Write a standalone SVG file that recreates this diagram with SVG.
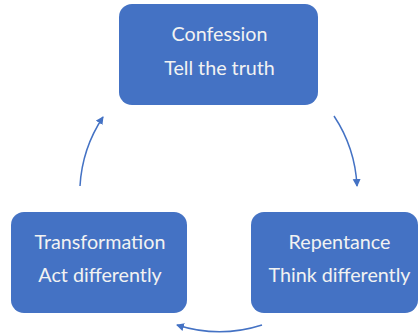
<svg xmlns="http://www.w3.org/2000/svg" width="419" height="334" viewBox="0 0 419 334">
  <style>
    .box { fill: #4472C4; }
    .label { font-family: Lato, "Noto Sans", sans-serif; font-size: 19.7px; fill: #F2F2F2; text-anchor: middle; }
    .arc { fill: none; stroke: #4472C4; stroke-width: 1.5; marker-end: url(#head); }
  </style>
  <defs>
    <marker id="head" markerUnits="userSpaceOnUse" markerWidth="10" markerHeight="10" refX="7" refY="4" orient="auto">
      <path d="M0,0 L8,4 L0,8 Z" fill="#4472C4"/>
    </marker>
  </defs>
  <rect width="419" height="334" fill="#FFFFFF"/>

  <g id="confession">
    <rect class="box" x="119" y="4" width="199" height="101" rx="13"/>
    <text class="label" x="219.5" y="41">Confession</text>
    <text class="label" x="219.5" y="75">Tell the truth</text>
  </g>

  <g id="repentance">
    <rect class="box" x="251" y="212" width="167" height="101" rx="13"/>
    <text class="label" x="339.5" y="249">Repentance</text>
    <text class="label" x="339.5" y="282">Think differently</text>
  </g>

  <g id="transformation">
    <rect class="box" x="11" y="212" width="176" height="101" rx="13"/>
    <text class="label" x="100" y="249">Transformation</text>
    <text class="label" x="100" y="282">Act differently</text>
  </g>

  <g id="connectors">
    <path class="arc" d="M334,116 A139,139 0 0 1 357,186"/>
    <path class="arc" d="M262,325 A139,139 0 0 1 177,325"/>
    <path class="arc" d="M80,186 A139,139 0 0 1 103,117"/>
  </g>
</svg>
